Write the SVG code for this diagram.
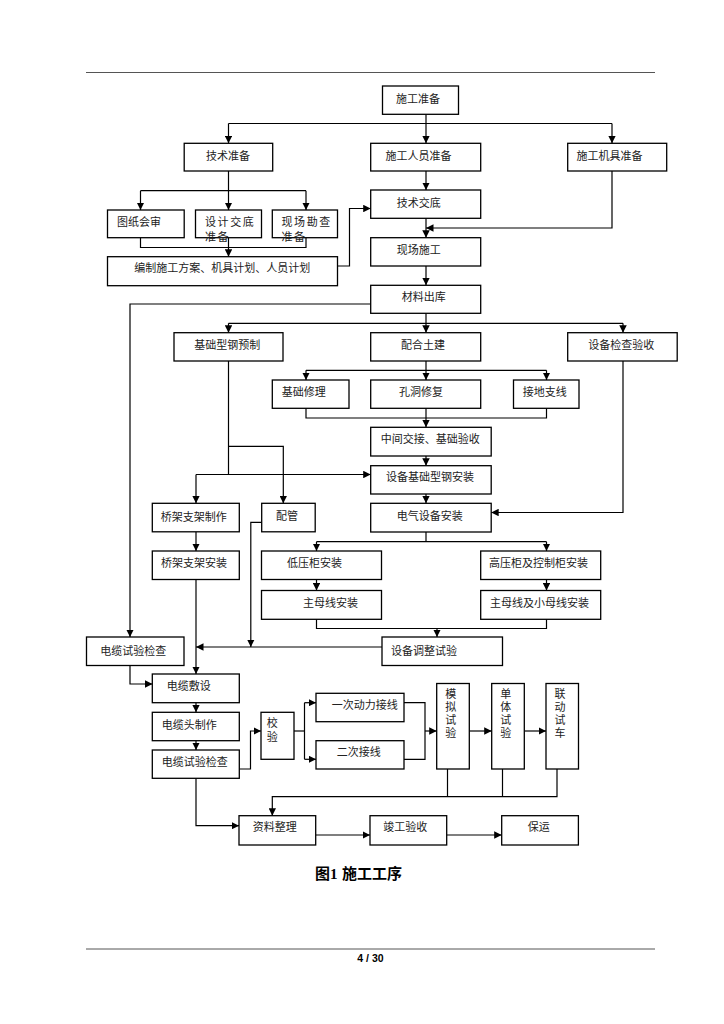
<svg xmlns="http://www.w3.org/2000/svg" width="724" height="1024" viewBox="0 0 724 1024">
<style>
.b{fill:#fff;stroke:#000;stroke-width:1.3}
.t{font-family:"Noto Sans CJK SC","Noto Sans CJK JP",sans-serif;font-size:11px;fill:#222}
.v{font-family:"Noto Sans CJK SC","Noto Sans CJK JP",sans-serif;font-size:11px;fill:#222;writing-mode:tb;letter-spacing:2px}
.c path{fill:none;stroke:#000;stroke-width:1.2}
.c path.a{marker-end:url(#ar)}
.rule{stroke:#555;stroke-width:1}
</style>
<defs>
<marker id="ar" viewBox="0 0 10 10" refX="10" refY="5" markerWidth="7.5" markerHeight="7.5" markerUnits="userSpaceOnUse" orient="auto">
<path d="M0,0 L10,5 L0,10 z" fill="#000"/>
</marker>
</defs>
<rect width="724" height="1024" fill="#fff"/>
<line class="rule" x1="86" y1="72.5" x2="655" y2="72.5"/>
<line class="rule" x1="86" y1="949" x2="655" y2="949" stroke="#888"/>

<g class="c" id="connectors">
<path class="a" d="M426,114.3 V143.3"/>
<path d="M228.5,123.5 H612"/>
<path class="a" d="M228.5,123.5 V143.3"/>
<path class="a" d="M612,123.5 V143.3"/>
<path d="M228.5,171 V190.7"/>
<path d="M140.5,190.7 H306"/>
<path class="a" d="M140.5,190.7 V210"/>
<path class="a" d="M228.5,190.7 V210"/>
<path class="a" d="M306,190.7 V210"/>
<path d="M140.5,237.7 V247.5 H306 V237.7"/>
<path class="a" d="M228.5,237.7 V256.7"/>
<path class="a" d="M337.5,266 H349.5 V208.5 H370.7"/>
<path class="a" d="M426,171 V190"/>
<path class="a" d="M426,218.3 V237.7"/>
<path class="a" d="M612,171 V228 H426"/>
<path class="a" d="M426,266 V285.3"/>
<path class="a" d="M370.7,304 H130 V637"/>
<path class="a" d="M426,313.3 V332.7"/>
<path d="M228.5,323.3 H623"/>
<path class="a" d="M228.5,323.3 V332.7"/>
<path class="a" d="M623,323.3 V332.7"/>
<path class="a" d="M426,361 V380"/>
<path d="M306,370.3 H546.5"/>
<path class="a" d="M306,370.3 V380"/>
<path class="a" d="M546.5,370.3 V380"/>
<path d="M306,408.3 V418 H546.5 V408.3"/>
<path class="a" d="M426,408.3 V427.3"/>
<path class="a" d="M426,456 V465.7"/>
<path class="a" d="M426,494 V503.3"/>
<path class="a" d="M623,361 V512.5 H491.2"/>
<path d="M228.5,361 V474.5"/>
<path class="a" d="M228.5,446.3 H283.3 V503.3"/>
<path class="a" d="M196,474.5 H370.7"/>
<path class="a" d="M196,474.5 V503.3"/>
<path class="a" d="M261.7,522.3 H250.8 V647"/>
<path class="a" d="M196,531.8 V551"/>
<path d="M426,532 V541.7"/>
<path d="M316.5,541.7 H546.5"/>
<path class="a" d="M316.5,541.7 V551"/>
<path class="a" d="M546.5,541.7 V551"/>
<path class="a" d="M316.5,579.5 V590.5"/>
<path class="a" d="M546.5,579.5 V590.5"/>
<path d="M316.5,619.3 V628.5 H546.5 V619.3"/>
<path class="a" d="M437,628.5 V637"/>
<path class="a" d="M382,647 H196"/>
<path class="a" d="M196,579.5 V674"/>
<path class="a" d="M130,665.5 V684 H152.3"/>
<path class="a" d="M196,702.7 V712.3"/>
<path class="a" d="M196,740.7 V750"/>
<path class="a" d="M239.3,769 H250.5 V731 H261"/>
<path d="M294,731 H304.5"/>
<path d="M304.5,702.7 V759.3"/>
<path class="a" d="M304.5,702.7 H316"/>
<path class="a" d="M304.5,759.3 H316"/>
<path d="M404,702.7 H425 V759.3 H404"/>
<path class="a" d="M425,731 H436.7"/>
<path class="a" d="M469.3,731 H491.7"/>
<path class="a" d="M524.3,731 H546"/>
<path d="M447.5,769 V796.7"/>
<path d="M502.5,769 V796.7"/>
<path class="a" d="M557,769 V796.7 H272.3 V815.7"/>
<path class="a" d="M196,778.3 V825.7 H239"/>
<path class="a" d="M315.7,835 H370"/>
<path class="a" d="M446.7,835 H501.7"/>
</g>

<g id="n1"><rect class="b" x="382.5" y="86" width="76" height="28.3"/><text class="t" x="396" y="102.5">施工准备</text></g>
<g id="n2"><rect class="b" x="184.2" y="143.3" width="88.5" height="27.7"/><text class="t" x="206" y="159.5">技术准备</text></g>
<g id="n3"><rect class="b" x="370.7" y="143.3" width="110" height="27.7"/><text class="t" x="385.5" y="159.5">施工人员准备</text></g>
<g id="n4"><rect class="b" x="567.7" y="143.3" width="99" height="27.7"/><text class="t" x="576.5" y="159.5">施工机具准备</text></g>
<g id="n5"><rect class="b" x="107.5" y="210" width="76.7" height="27.7"/><text class="t" x="117" y="225.5">图纸会审</text></g>
<g id="n6"><rect class="b" x="195.5" y="210" width="66" height="27.7"/><text class="t" font-size="10.5" letter-spacing="1.6"><tspan x="205" y="225.5">设计交底</tspan><tspan x="205" y="241">准备</tspan></text></g>
<g id="n7"><rect class="b" x="272.3" y="210" width="65.2" height="27.7"/><text class="t" font-size="10.5" letter-spacing="1.6"><tspan x="281.5" y="225.5">现场勘查</tspan><tspan x="281.5" y="241">准备</tspan></text></g>
<g id="n8"><rect class="b" x="107.5" y="256.7" width="230" height="29"/><text class="t" x="134.3" y="271.5">编制施工方案、机具计划、人员计划</text></g>
<g id="n9"><rect class="b" x="370.7" y="190" width="110" height="28.3"/><text class="t" x="396.7" y="207">技术交底</text></g>
<g id="n10"><rect class="b" x="370.7" y="237.7" width="110" height="28.3"/><text class="t" x="396.7" y="253.5">现场施工</text></g>
<g id="n11"><rect class="b" x="370.7" y="285.3" width="110" height="28"/><text class="t" x="401.8" y="301">材料出库</text></g>
<g id="n12"><rect class="b" x="174" y="332.7" width="109" height="28.3"/><text class="t" x="194.2" y="349">基础型钢预制</text></g>
<g id="n13"><rect class="b" x="370.7" y="332.7" width="110" height="28.3"/><text class="t" x="401" y="349">配合土建</text></g>
<g id="n14"><rect class="b" x="567.7" y="332.7" width="109.5" height="28.3"/><text class="t" x="588.3" y="349">设备检查验收</text></g>
<g id="n15"><rect class="b" x="272.3" y="380" width="76.7" height="28.3"/><text class="t" x="281.7" y="396">基础修理</text></g>
<g id="n16"><rect class="b" x="370.7" y="380" width="110" height="28.3"/><text class="t" x="399" y="396">孔洞修复</text></g>
<g id="n17"><rect class="b" x="513.5" y="380" width="65.5" height="28.3"/><text class="t" x="522.7" y="396">接地支线</text></g>
<g id="n18"><rect class="b" x="370.7" y="427.3" width="120.5" height="28.7"/><text class="t" x="380.7" y="442.5">中间交接、基础验收</text></g>
<g id="n19"><rect class="b" x="370.7" y="465.7" width="120.5" height="28.3"/><text class="t" x="386" y="481">设备基础型钢安装</text></g>
<g id="n20"><rect class="b" x="152.3" y="503.3" width="87" height="28.5"/><text class="t" x="160.7" y="520.5">桥架支架制作</text></g>
<g id="n21"><rect class="b" x="261.7" y="503.3" width="53.5" height="28.5"/><text class="t" x="276" y="520">配管</text></g>
<g id="n22"><rect class="b" x="370.7" y="503.3" width="120.5" height="28.7"/><text class="t" x="396.7" y="519.5">电气设备安装</text></g>
<g id="n23"><rect class="b" x="152.3" y="551" width="87" height="28.5"/><text class="t" x="161" y="567">桥架支架安装</text></g>
<g id="n24"><rect class="b" x="261.5" y="551" width="120" height="28.5"/><text class="t" x="286.9" y="567">低压柜安装</text></g>
<g id="n25"><rect class="b" x="480.7" y="551" width="120" height="28.5"/><text class="t" x="489" y="567">高压柜及控制柜安装</text></g>
<g id="n26"><rect class="b" x="261.5" y="590.5" width="120" height="28.8"/><text class="t" x="303" y="606.5">主母线安装</text></g>
<g id="n27"><rect class="b" x="480.7" y="590.5" width="120" height="28.8"/><text class="t" x="490" y="606.5">主母线及小母线安装</text></g>
<g id="n28"><rect class="b" x="86.5" y="637" width="97.5" height="28.5"/><text class="t" x="100.3" y="654.5">电缆试验检查</text></g>
<g id="n29"><rect class="b" x="382" y="637" width="120.5" height="28.5"/><text class="t" x="391" y="654.5">设备调整试验</text></g>
<g id="n30"><rect class="b" x="152.3" y="674" width="87" height="28.7"/><text class="t" x="166.7" y="690">电缆敷设</text></g>
<g id="n31"><rect class="b" x="152.3" y="712.3" width="87" height="28.4"/><text class="t" x="161.7" y="728.5">电缆头制作</text></g>
<g id="n32"><rect class="b" x="152.3" y="750" width="87" height="28.3"/><text class="t" x="161.7" y="766">电缆试验检查</text></g>
<g id="n33"><rect class="b" x="261" y="712.3" width="33" height="47"/><text class="v" x="272.3" y="717.8" style="letter-spacing:2.4px">校验</text></g>
<g id="n34"><rect class="b" x="316" y="693.3" width="88" height="28.4"/><text class="t" x="331.7" y="708.5">一次动力接线</text></g>
<g id="n35"><rect class="b" x="316" y="740.7" width="88" height="28.3"/><text class="t" x="336.7" y="756">二次接线</text></g>
<g id="n36"><rect class="b" x="436.7" y="683.5" width="32.6" height="85.5"/><text class="v" x="450.7" y="688.5">模拟试验</text></g>
<g id="n37"><rect class="b" x="491.7" y="683.5" width="32.6" height="85.5"/><text class="v" x="505.7" y="688.5">单体试验</text></g>
<g id="n38"><rect class="b" x="546" y="683.5" width="32.5" height="85.5"/><text class="v" x="560" y="688.5">联动试车</text></g>
<g id="n39"><rect class="b" x="239" y="815.7" width="76.7" height="29.3"/><text class="t" x="252.7" y="831">资料整理</text></g>
<g id="n40"><rect class="b" x="370" y="815.7" width="76.7" height="29.3"/><text class="t" x="383.3" y="831">竣工验收</text></g>
<g id="n41"><rect class="b" x="501.7" y="815.7" width="76.7" height="29.3"/><text class="t" x="527.7" y="831">保运</text></g>

<text y="879" font-family="'Liberation Serif','Noto Sans CJK SC',serif" font-size="15" font-weight="bold" fill="#000"><tspan x="315">图1</tspan><tspan x="342">施工工序</tspan></text>
<text x="370.5" y="962" text-anchor="middle" font-family="'Liberation Sans',Arial,sans-serif" font-size="10.5" font-weight="bold" fill="#000">4 / 30</text>
</svg>
